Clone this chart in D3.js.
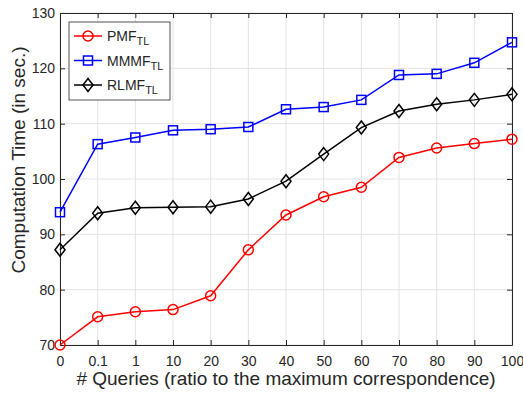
<!DOCTYPE html>
<html>
<head>
<meta charset="UTF-8">
<script src="https://d3js.org/d3.v7.min.js"></script>
<style>
  body { margin: 0; background: #fff; }
  text { font-family: "Liberation Sans", Arial, sans-serif; fill: #262626; }
</style>
</head>
<body>
<svg width="523" height="393"></svg>
<script>
// categorie sull'asse x
const queries = ["0", "0.1", "1", "10", "20", "30", "40", "50", "60", "70", "80", "90", "100"];
const yTicks = [70, 80, 90, 100, 110, 120, 130];

// tempi
const pmf  = [70.0, 75.1, 76.0, 76.4, 78.9, 87.2, 93.5, 96.8, 98.5, 103.9, 105.6, 106.4, 107.2];
const mmmf = [94.0, 106.3, 107.5, 108.8, 109.0, 109.4, 112.6, 113.0, 114.3, 118.8, 119.0, 121.0, 124.7];
const rlmf = [87.2, 93.8, 94.8, 94.9, 95.0, 96.4, 99.6, 104.5, 109.3, 112.3, 113.5, 114.3, 115.3];

const series = [
  { name: "PMF", values: pmf, color: "#ff0000", marker: "circle" },
  { name: "MMMF", values: mmmf, color: "#0000ff", marker: "square" },
  { name: "RLMF", values: rlmf, color: "#000000", marker: "diamond" }
];

const margin = { left: 60, right: 11, top: 13, bottom: 48 };
const W = 523, H = 393;
const svg = d3.select("svg");

const x = d3.scalePoint().domain(queries).range([margin.left, W - margin.right]);
const y = d3.scaleLinear().domain([70, 130]).range([H - margin.bottom, margin.top]);

// griglia
svg.append("g").selectAll("line").data(queries).join("line")
  .attr("x1", d => x(d)).attr("x2", d => x(d))
  .attr("y1", y(70)).attr("y2", y(130))
  .attr("stroke", "#e3e3e3").attr("stroke-width", 1);
svg.append("g").selectAll("line").data(yTicks).join("line")
  .attr("x1", margin.left).attr("x2", W - margin.right)
  .attr("y1", d => y(d)).attr("y2", d => y(d))
  .attr("stroke", "#e3e3e3").attr("stroke-width", 1);

// assi con tacche interne
const xAxis = svg.append("g").attr("transform", `translate(0,${y(70)})`)
  .call(d3.axisBottom(x).tickSizeInner(-5).tickSizeOuter(0).tickPadding(11));
const xTop = svg.append("g").attr("transform", `translate(0,${y(130)})`)
  .call(d3.axisTop(x).tickSizeInner(-5).tickSizeOuter(0).tickFormat(""));
const yAxis = svg.append("g").attr("transform", `translate(${margin.left},0)`)
  .call(d3.axisLeft(y).tickValues(yTicks).tickSizeInner(-5).tickSizeOuter(0).tickPadding(5));
const yRight = svg.append("g").attr("transform", `translate(${W - margin.right},0)`)
  .call(d3.axisRight(y).tickValues(yTicks).tickSizeInner(-5).tickSizeOuter(0).tickFormat(""));
[xAxis, xTop, yAxis, yRight].forEach(a => {
  a.selectAll("path").attr("stroke", "#262626");
  a.selectAll("line").attr("stroke", "#262626");
  a.selectAll("text").style("font-size", "14px").attr("fill", "#262626")
    .style("font-family", "'Liberation Sans', Arial, sans-serif");
});

// linee
const line = d3.line().x((d, i) => x(queries[i])).y(d => y(d));

function drawMarker(g, type, color, size) {
  if (type === "circle") {
    g.append("circle").attr("r", size).attr("fill", "none").attr("stroke", color).attr("stroke-width", 1.5);
  } else if (type === "square") {
    g.append("rect").attr("x", -size + 0.5).attr("y", -size + 0.5).attr("width", 2 * size - 1).attr("height", 2 * size - 1)
      .attr("fill", "none").attr("stroke", color).attr("stroke-width", 1.5);
  } else {
    const s = size + 1.5;
    g.append("path").attr("d", `M0,${-s}L${s - 1.5},0L0,${s}L${-(s - 1.5)},0Z`)
      .attr("fill", "none").attr("stroke", color).attr("stroke-width", 1.5);
  }
}

series.forEach(s => {
  svg.append("path").datum(s.values).attr("d", line)
    .attr("fill", "none").attr("stroke", s.color).attr("stroke-width", 1.5);
  s.values.forEach((v, i) => {
    const g = svg.append("g").attr("transform", `translate(${x(queries[i])},${y(v)})`);
    drawMarker(g, s.marker, s.color, 5);
  });
});

// legenda
const lg = svg.append("g").attr("transform", "translate(69,22)");
lg.append("rect").attr("width", 101).attr("height", 78).attr("fill", "#fff").attr("stroke", "#262626").attr("stroke-width", 0.8);
series.forEach((s, i) => {
  const cy = 14 + i * 24.5;
  lg.append("line").attr("x1", 5).attr("x2", 33).attr("y1", cy).attr("y2", cy)
    .attr("stroke", s.color).attr("stroke-width", 1.5);
  drawMarker(lg.append("g").attr("transform", `translate(19,${cy})`), s.marker, s.color, 5);
  const t = lg.append("text").attr("x", 38).attr("y", cy + 5).style("font-size", "14px").attr("fill", "#000");
  t.append("tspan").text(s.name);
  t.append("tspan").attr("dy", 4).style("font-size", "11px").text("TL");
});

// etichette assi
svg.append("text").attr("x", (margin.left + W - margin.right) / 2).attr("y", 385)
  .attr("text-anchor", "middle").style("font-size", "19px")
  .text("# Queries (ratio to the maximum correspondence)");
svg.append("text").attr("transform", "translate(25,160) rotate(-90)")
  .attr("text-anchor", "middle").style("font-size", "19px")
  .text("Computation Time (in sec.)");
</script>
</body>
</html>
